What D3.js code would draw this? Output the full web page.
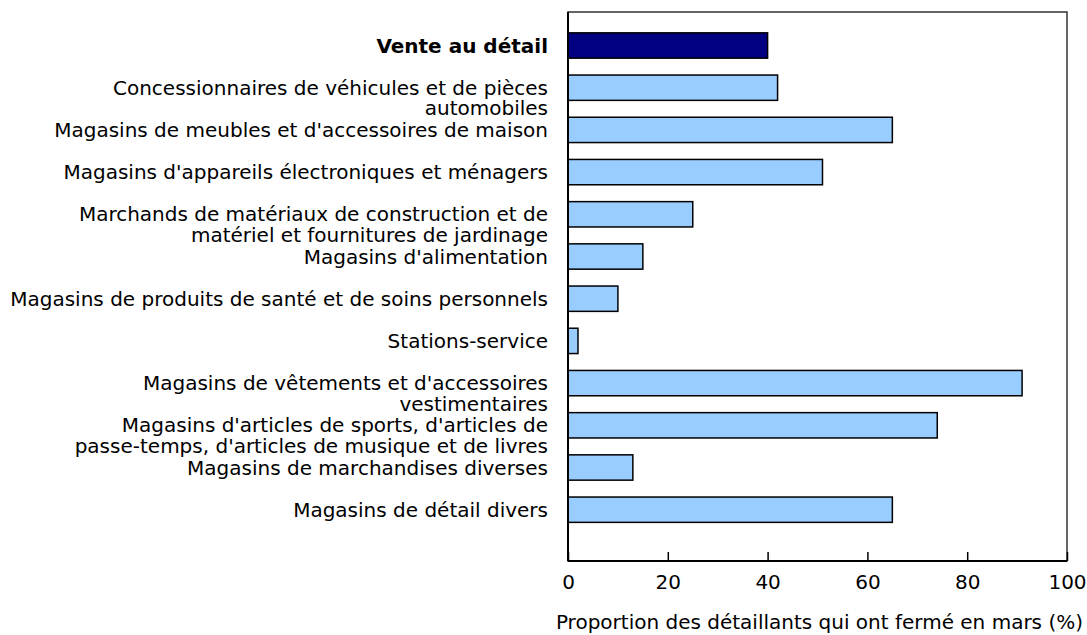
<!DOCTYPE html>
<html>
<head>
<meta charset="utf-8">
<script src="https://cdnjs.cloudflare.com/ajax/libs/d3/7.8.5/d3.min.js"></script>
<style>
    body { margin: 0; background: #fff; }
    text { font-family: "DejaVu Sans", Verdana, sans-serif; fill: #000; }
</style>
</head>
<body>
<script>
(function() {
    'use strict';

    // libellés (une entrée par ligne de texte)
    var categories = [
        ["Vente au détail"],
        ["Concessionnaires de véhicules et de pièces", "automobiles"],
        ["Magasins de meubles et d'accessoires de maison"],
        ["Magasins d'appareils électroniques et ménagers"],
        ["Marchands de matériaux de construction et de", "matériel et fournitures de jardinage"],
        ["Magasins d'alimentation"],
        ["Magasins de produits de santé et de soins personnels"],
        ["Stations-service"],
        ["Magasins de vêtements et d'accessoires", "vestimentaires"],
        ["Magasins d'articles de sports, d'articles de", "passe-temps, d'articles de musique et de livres"],
        ["Magasins de marchandises diverses"],
        ["Magasins de détail divers"]
    ];
    var values = [40, 42, 65, 51, 25, 15, 10, 2, 91, 74, 13, 65];
    var xTicks = [0, 20, 40, 60, 80, 100];
    var xTitle = "Proportion des détaillants qui ont fermé en mars (%)";

    var w = 1087;
    var h = 635;
    var left = 568, right = 1067, top = 12, bottom = 561;

    var svg = d3.select("body")
                .append("svg")
                .attr("width", w)
                .attr("height", h);

    var x = d3.scaleLinear()
              .domain([0, 100])
              .range([left, right]);

    var y = d3.scaleBand()
              .domain(d3.range(categories.length))
              .range([24.4, 530.8])
              .paddingInner(0.4)
              .paddingOuter(0.2);

    // cadre
    svg.append("rect")
       .attr("x", left)
       .attr("y", top)
       .attr("width", right - left)
       .attr("height", bottom - top)
       .attr("fill", "none")
       .attr("stroke", "#333")
       .attr("stroke-width", 1.5);

    svg.selectAll("rect.bar")
       .data(values)
       .enter()
       .append("rect")
       .attr("class", "bar")
       .attr("x", x(0))
       .attr("y", function(d, i) { return y(i); })
       .attr("width", function(d) { return x(d) - x(0); })
       .attr("height", y.bandwidth())
       .attr("fill", function(d, i) { return i === 0 ? "#000080" : "#99ccff"; })
       .attr("stroke", "#000")
       .attr("stroke-width", 1.5);

    // axe des x, graduations vers l'intérieur
    var xAxis = d3.axisBottom(x)
                  .tickValues(xTicks)
                  .tickSize(-9)
                  .tickPadding(14);
    var gx = svg.append("g")
                .attr("transform", "translate(0," + bottom + ")")
                .call(xAxis);
    gx.select(".domain").remove();
    gx.selectAll(".tick line").attr("stroke", "#000").attr("stroke-width", 1.5);
    gx.selectAll(".tick text").style("font-size", "20px");

    svg.append("line")
       .attr("x1", left).attr("x2", right)
       .attr("y1", bottom).attr("y2", bottom)
       .attr("stroke", "#000").attr("stroke-width", 2);
    svg.append("line")
       .attr("x1", left).attr("x2", left)
       .attr("y1", top).attr("y2", bottom)
       .attr("stroke", "#000").attr("stroke-width", 2);

    // libellés des catégories
    var labels = svg.selectAll("text.cat")
                    .data(categories)
                    .enter()
                    .append("text")
                    .attr("class", "cat")
                    .attr("text-anchor", "end")
                    .style("font-size", "20px")
                    .style("font-weight", function(d, i) { return i === 0 ? "bold" : "normal"; });
    labels.selectAll("tspan")
          .data(function(d, i) {
              return d.map(function(t, j) { return {t: t, i: i, j: j}; });
          })
          .enter()
          .append("tspan")
          .attr("x", left - 20)
          .attr("y", function(d) { return y(d.i) + y.bandwidth() / 2 + 7 + d.j * 20.5; })
          .text(function(d) { return d.t; });

    svg.append("text")
       .attr("x", 1083)
       .attr("y", 629)
       .attr("text-anchor", "end")
       .style("font-size", "20px")
       .text(xTitle);
}());
</script>
</body>
</html>
